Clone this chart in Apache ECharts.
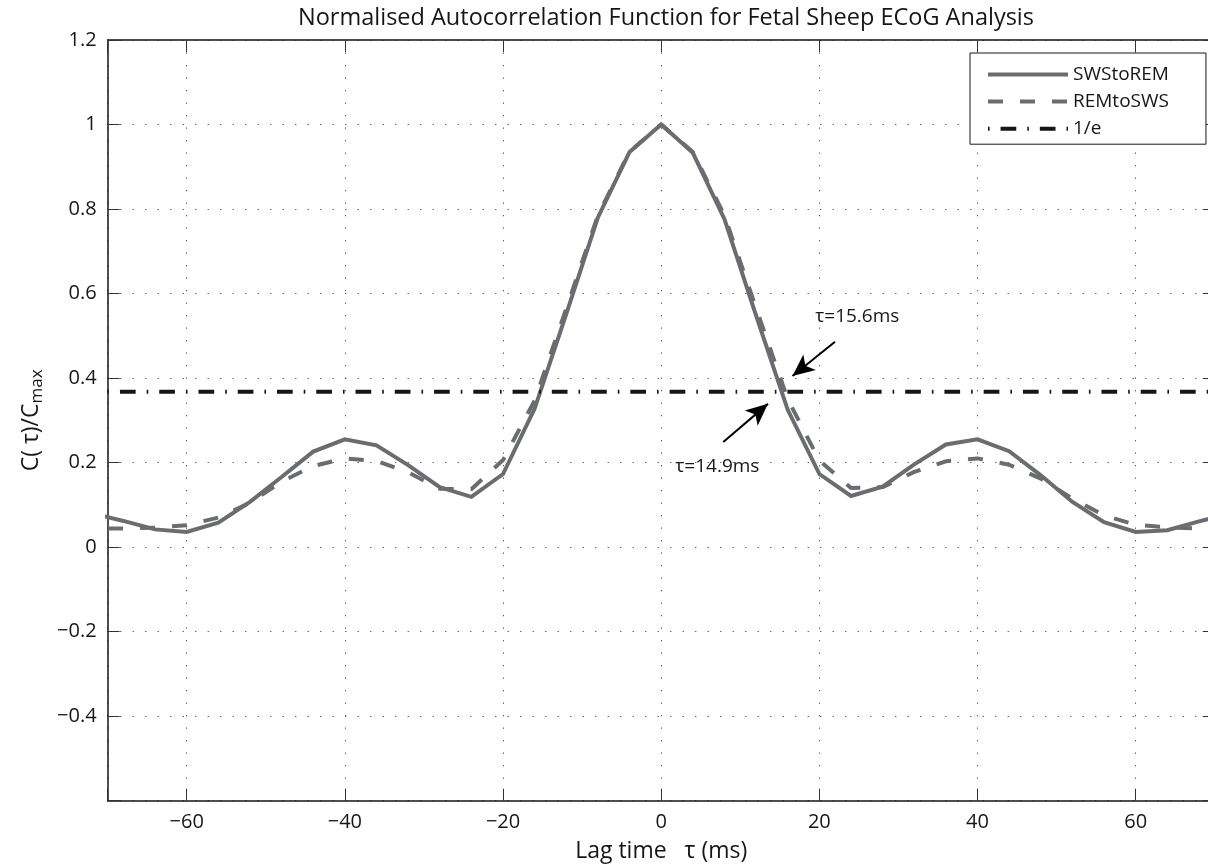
<!DOCTYPE html>
<html>
<head>
<meta charset="utf-8">
<title>Normalised Autocorrelation Function for Fetal Sheep ECoG Analysis</title>
<script src="https://cdn.jsdelivr.net/npm/echarts@6.0.0/dist/echarts.min.js"></script>
<style>
  html, body { margin: 0; padding: 0; background: #fff; }
  #chart { width: 1208px; height: 867px; }
</style>
</head>
<body>
<div id="chart"></div>
<script>
// Lag times (ms) of the autocorrelation samples, 4 ms apart
const lags = [-72, -68, -64, -60, -56, -52, -48, -44, -40, -36, -32, -28, -24, -20, -16, -12, -8, -4,
              0, 4, 8, 12, 16, 20, 24, 28, 32, 36, 40, 44, 48, 52, 56, 60, 64, 68, 72];

// Normalised autocorrelation C(tau)/Cmax, slow-wave sleep -> REM transition
const swsToRem = [0.080, 0.062, 0.042, 0.036, 0.058, 0.107, 0.166, 0.226, 0.255, 0.241, 0.194, 0.142, 0.119,
                  0.173, 0.328, 0.552, 0.780, 0.935,
                  1.000,
                  0.933, 0.776, 0.548, 0.325, 0.173, 0.121, 0.143, 0.196, 0.243, 0.255, 0.227, 0.170,
                  0.107, 0.059, 0.036, 0.040, 0.061, 0.080];

// Normalised autocorrelation C(tau)/Cmax, REM -> slow-wave sleep transition
const remToSws = [0.044, 0.044, 0.046, 0.052, 0.070, 0.105, 0.155, 0.192, 0.210, 0.204, 0.177, 0.138, 0.137,
                  0.206, 0.347, 0.565, 0.785, 0.936,
                  1.000,
                  0.935, 0.785, 0.565, 0.350, 0.205, 0.140, 0.142, 0.178, 0.203, 0.210, 0.195, 0.162,
                  0.115, 0.075, 0.053, 0.047, 0.044, 0.043];

// Decorrelation threshold
const threshold = 1 / Math.E;

// Lags at which each curve falls through 1/e (ms)
const crossingLabels = ['τ=15.6ms', 'τ=14.9ms'];

// Annotation arrows [tail, head] and label anchors, in data units (lag ms, C/Cmax)
const arrowTails = [[21.98, 0.486], [7.85, 0.249]];
const arrowHeads = [[16.6, 0.405], [13.5, 0.339]];
const labelAnchors = [[24.8, 0.546], [7.1, 0.190]];

// Axis extents and ticks
const xRange = [-70, 70];
const yRange = [-0.6, 1.2];
const yStep = 0.2;

const FONT = "'Open Sans', 'DejaVu Sans', sans-serif";
const CURVE = '#6b6c70';
const INK = '#161616';

const minus = s => String(s).replace('-', '\u2212');

const chart = echarts.init(document.getElementById('chart'), null, { renderer: 'canvas' });

const dotted = { type: [1.3, 11.2], color: '#555', width: 1 };
const frameLine = { show: true, onZero: false, lineStyle: { color: INK, width: 1.5 } };
const innerTick = { show: true, inside: true, length: 12, lineStyle: { color: '#333', width: 1 } };

const option = {
  animation: false,
  backgroundColor: '#fff',
  title: {
    text: 'Normalised Autocorrelation Function for Fetal Sheep ECoG Analysis',
    left: 661,
    top: 1,
    textAlign: 'center',
    textStyle: { fontFamily: FONT, fontSize: 23.5, fontWeight: 'normal', color: INK }
  },
  legend: {
    orient: 'vertical',
    left: 970,
    top: 53,
    padding: [12, 37, 6, 16],
    itemWidth: 80,
    itemHeight: 14,
    itemGap: 8.1,
    borderColor: INK,
    borderWidth: 1,
    borderRadius: 0,
    backgroundColor: '#fff',
    itemStyle: { opacity: 0 },
    lineStyle: { width: 4 },
    textStyle: { fontFamily: FONT, fontSize: 19, color: INK },
    data: [
      { name: 'SWStoREM' },
      { name: 'REMtoSWS', lineStyle: { width: 4, dashOffset: 0 } },
      { name: '1/e', lineStyle: { width: 4, dashOffset: 26.7 } }
    ]
  },
  grid: {
    left: 107.6,
    top: 40,
    width: 1107.2,
    height: 760.7,
    containLabel: false,
    outerBoundsMode: 'none'
  },
  xAxis: [
    {
      type: 'value',
      position: 'bottom',
      min: xRange[0],
      max: xRange[1],
      splitNumber: 7,
      axisLine: frameLine,
      axisTick: innerTick,
      axisLabel: {
        margin: 12,
        fontFamily: FONT,
        fontSize: 20,
        color: INK,
        formatter: v => (v % 20 === 0 ? minus(v) : '')
      },
      splitLine: { show: true, lineStyle: dotted },
      name: 'Lag time   τ (ms)',
      nameLocation: 'middle',
      nameGap: 39,
      nameTextStyle: { fontFamily: FONT, fontSize: 23, color: INK }
    },
    {
      type: 'value',
      position: 'top',
      min: xRange[0],
      max: xRange[1],
      splitNumber: 7,
      axisLine: frameLine,
      axisTick: innerTick,
      axisLabel: { show: false },
      splitLine: { show: false }
    }
  ],
  yAxis: [
    {
      type: 'value',
      position: 'left',
      min: yRange[0],
      max: yRange[1],
      interval: yStep,
      axisLine: frameLine,
      axisTick: innerTick,
      axisLabel: {
        margin: 11,
        fontFamily: FONT,
        fontSize: 20,
        color: INK,
        formatter: v => (v < yRange[0] + 1e-6 ? '' : minus(Number(v.toFixed(1))))
      },
      splitLine: { show: true, lineStyle: dotted },
      name: '{a|C( τ)/C}{s|max}',
      nameLocation: 'middle',
      nameRotate: 90,
      nameGap: 51,
      nameTextStyle: {
        rich: {
          a: { fontFamily: FONT, fontSize: 23, color: INK, lineHeight: 26, verticalAlign: 'top' },
          s: { fontFamily: FONT, fontSize: 17, color: INK, lineHeight: 17, verticalAlign: 'bottom' }
        },
        lineHeight: 34
      }
    },
    {
      type: 'value',
      position: 'right',
      min: yRange[0],
      max: yRange[1],
      interval: yStep,
      axisLine: frameLine,
      axisTick: innerTick,
      axisLabel: { show: false },
      splitLine: { show: false }
    }
  ],
  series: [
    {
      name: 'SWStoREM',
      type: 'line',
      xAxisIndex: 0,
      yAxisIndex: 0,
      symbol: 'none',
      clip: true,
      data: lags.map((t, i) => [t, swsToRem[i]]),
      itemStyle: { color: CURVE },
      lineStyle: { color: CURVE, width: 4, join: 'miter' }
    },
    {
      name: 'REMtoSWS',
      type: 'line',
      xAxisIndex: 0,
      yAxisIndex: 0,
      symbol: 'none',
      clip: true,
      data: lags.map((t, i) => [t, remToSws[i]]),
      itemStyle: { color: CURVE },
      lineStyle: { color: CURVE, width: 4, type: [15, 17], dashOffset: 15.7 }
    },
    {
      name: '1/e',
      type: 'line',
      xAxisIndex: 0,
      yAxisIndex: 0,
      symbol: 'none',
      clip: true,
      data: [[xRange[0], threshold], [xRange[1], threshold]],
      itemStyle: { color: INK },
      lineStyle: { color: INK, width: 4, type: [15.7, 11, 1.6, 10.96], dashOffset: 26.9 },
      markLine: {
        silent: true,
        symbol: ['none', 'arrow'],
        symbolSize: [15, 22],
        label: { show: false },
        lineStyle: { color: '#000', width: 2, type: 'solid' },
        data: arrowTails.map((tail, i) => [{ coord: tail }, { coord: arrowHeads[i] }])
      },
      markPoint: {
        silent: true,
        symbol: 'rect',
        symbolSize: 1,
        itemStyle: { color: 'rgba(0,0,0,0)' },
        label: {
          show: true,
          position: 'inside',
          formatter: p => p.name,
          fontFamily: FONT,
          fontSize: 19,
          color: INK
        },
        data: labelAnchors.map((c, i) => ({ name: crossingLabels[i], coord: c }))
      }
    }
  ]
};

chart.setOption(option);
</script>
</body>
</html>
